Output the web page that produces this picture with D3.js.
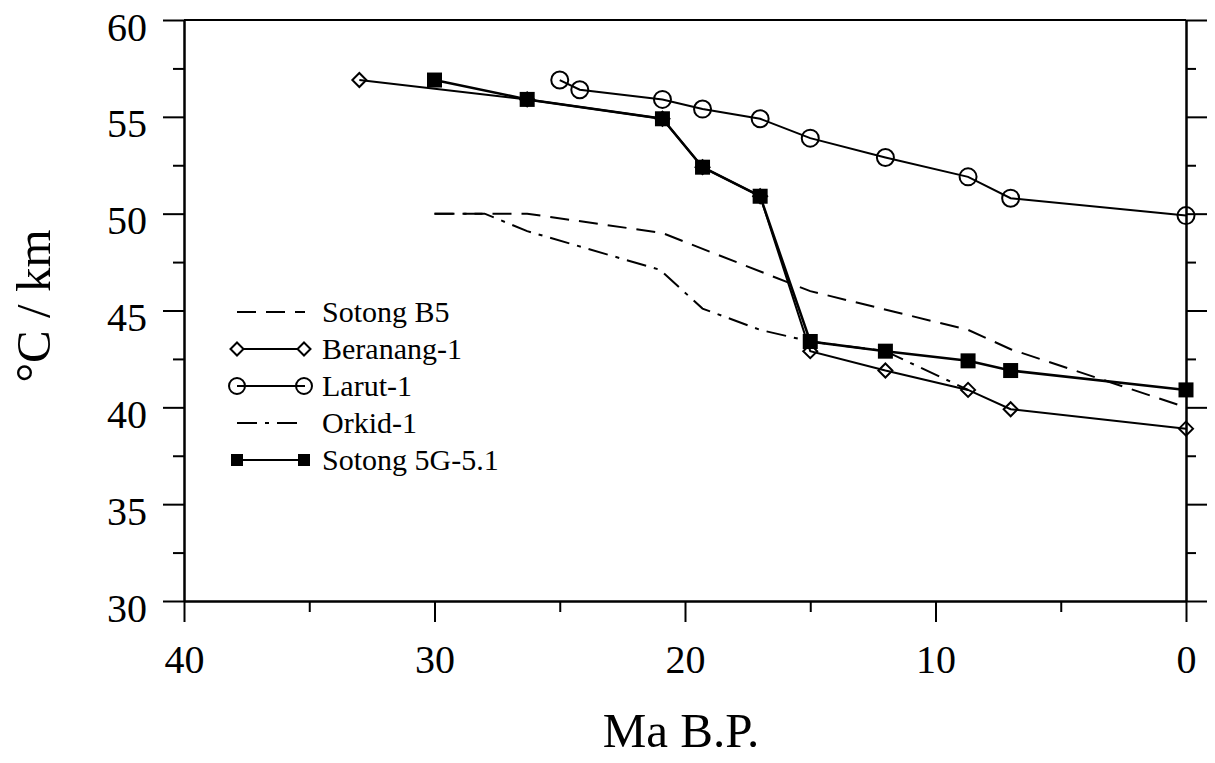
<!DOCTYPE html>
<html>
<head>
<meta charset="utf-8">
<script src="https://cdn.jsdelivr.net/npm/d3@7"></script>
<style>
  html, body { margin: 0; padding: 0; background: #fff; }
  svg { display: block; }
  text { font-family: "Liberation Serif", "DejaVu Serif", serif; fill: #000; }
</style>
</head>
<body>
<div id="chart"></div>
<script>
// x axis (Ma B.P.) and y axis (°C / km) ticks
const ageTicks = [40, 30, 20, 10, 0];
const ageMinor = [35, 25, 15, 5];
const gradTicks = [30, 35, 40, 45, 50, 55, 60];
const gradMinor = [32.5, 37.5, 42.5, 47.5, 52.5, 57.5];

// series
const sotongB5Age = [30, 26.3, 20.9, 15, 8.7, 7, 0];
const sotongB5Grad = [50, 50, 49, 46, 44, 43, 40];

const beranangAge = [33, 26.3, 20.9, 19.3, 17, 15, 12, 8.7, 7, 0];
const beranangGrad = [56.9, 55.9, 54.9, 52.4, 50.9, 42.9, 41.9, 40.9, 39.9, 38.9];

const larutAge = [25, 24.2, 20.9, 19.3, 17, 15, 12, 8.7, 7, 0];
const larutGrad = [56.9, 56.4, 55.9, 55.4, 54.9, 53.9, 52.9, 51.9, 50.8, 49.9];

const orkidAge = [30, 28, 26.3, 21, 19.3, 17, 15, 12, 8.7];
const orkidGrad = [50, 50, 49.1, 47.1, 45.1, 44, 43.4, 42.9, 40.9];

const sotong5GAge = [30, 26.3, 20.9, 19.3, 17, 15, 12, 8.7, 7, 0];
const sotong5GGrad = [56.9, 55.9, 54.9, 52.4, 50.9, 43.4, 42.9, 42.4, 41.9, 40.9];

const legendNames = ["Sotong B5", "Beranang-1", "Larut-1", "Orkid-1", "Sotong 5G-5.1"];

const width = 1215, height = 763;
const svg = d3.select("#chart").append("svg")
  .attr("width", width)
  .attr("height", height);

const x = d3.scaleLinear().domain([40, 0]).range([184, 1186]);
const y = d3.scaleLinear().domain([30, 60]).range([601, 20]);

const zip = (a, b) => a.map((v, i) => ({ age: v, grad: b[i] }));
const line = d3.line().x(d => x(d.age)).y(d => y(d.grad));

// frame: top line
svg.append("line")
  .attr("x1", x(40)).attr("x2", x(0))
  .attr("y1", y(60)).attr("y2", y(60))
  .attr("stroke", "#000").attr("stroke-width", 2);

function styleAxis(g) {
  g.selectAll("path, line").attr("stroke", "#000").attr("stroke-width", 2);
  g.selectAll("text").style("font-family", "Liberation Serif").attr("fill", "#000");
}

// left axis
const left = svg.append("g").attr("transform", `translate(${x(40)},0)`)
  .call(d3.axisLeft(y).tickValues(gradTicks).tickSize(21).tickSizeOuter(0).tickPadding(16).tickFormat(d3.format("d")));
left.selectAll("text").attr("dy", "0.5em").style("font-size", "40px");
styleAxis(left);
const leftMinor = svg.append("g").attr("transform", `translate(${x(40)},0)`)
  .call(d3.axisLeft(y).tickValues(gradMinor).tickSize(11).tickSizeOuter(0).tickFormat(""));
styleAxis(leftMinor);

// right axis
const right = svg.append("g").attr("transform", `translate(${x(0)},0)`)
  .call(d3.axisRight(y).tickValues(gradTicks).tickSize(21).tickSizeOuter(0).tickFormat(""));
styleAxis(right);
const rightMinor = svg.append("g").attr("transform", `translate(${x(0)},0)`)
  .call(d3.axisRight(y).tickValues(gradMinor).tickSize(10).tickSizeOuter(0).tickFormat(""));
styleAxis(rightMinor);

// bottom axis
const bottom = svg.append("g").attr("transform", `translate(0,${y(30)})`)
  .call(d3.axisBottom(x).tickValues(ageTicks).tickSize(21).tickSizeOuter(0).tickFormat(d3.format("d")));
bottom.selectAll("text").attr("y", 72).attr("dy", 0).style("font-size", "40px");
styleAxis(bottom);
const bottomMinor = svg.append("g").attr("transform", `translate(0,${y(30)})`)
  .call(d3.axisBottom(x).tickValues(ageMinor).tickSize(11).tickSizeOuter(0).tickFormat(""));
styleAxis(bottomMinor);

// axis titles
svg.append("text")
  .attr("x", 681).attr("y", 747)
  .attr("text-anchor", "middle")
  .style("font-size", "49px")
  .text("Ma B.P.");

svg.append("text")
  .attr("transform", "translate(50,306) rotate(-90)")
  .attr("text-anchor", "middle")
  .style("font-size", "49px")
  .text("°C / km");

// line styles
const dashB5 = "19,10";
const dashOrkid = "20,8,4,8";

function diamond(cx, cy, r) {
  return `M${cx},${cy - r}L${cx + r},${cy}L${cx},${cy + r}L${cx - r},${cy}Z`;
}

const plot = svg.append("g");

plot.append("path").datum(zip(sotongB5Age, sotongB5Grad))
  .attr("d", line).attr("fill", "none").attr("stroke", "#000")
  .attr("stroke-width", 2).attr("stroke-dasharray", dashB5);

plot.append("path").datum(zip(orkidAge, orkidGrad))
  .attr("d", line).attr("fill", "none").attr("stroke", "#000")
  .attr("stroke-width", 2).attr("stroke-dasharray", dashOrkid);

plot.append("path").datum(zip(beranangAge, beranangGrad))
  .attr("d", line).attr("fill", "none").attr("stroke", "#000").attr("stroke-width", 2);

plot.append("path").datum(zip(larutAge, larutGrad))
  .attr("d", line).attr("fill", "none").attr("stroke", "#000").attr("stroke-width", 2);

plot.append("path").datum(zip(sotong5GAge, sotong5GGrad))
  .attr("d", line).attr("fill", "none").attr("stroke", "#000").attr("stroke-width", 2.5);

// markers
plot.selectAll(".ber").data(zip(beranangAge, beranangGrad)).join("path")
  .attr("class", "ber")
  .attr("d", d => diamond(x(d.age), y(d.grad), 7))
  .attr("fill", "none").attr("stroke", "#000").attr("stroke-width", 2);

plot.selectAll(".lar").data(zip(larutAge, larutGrad)).join("circle")
  .attr("class", "lar")
  .attr("cx", d => x(d.age)).attr("cy", d => y(d.grad)).attr("r", 8.5)
  .attr("fill", "none").attr("stroke", "#000").attr("stroke-width", 2);

plot.selectAll(".sq").data(zip(sotong5GAge, sotong5GGrad)).join("rect")
  .attr("class", "sq")
  .attr("x", d => x(d.age) - 7.5).attr("y", d => y(d.grad) - 7.5)
  .attr("width", 15).attr("height", 15)
  .attr("fill", "#000");

// legend
const legend = svg.append("g");
const lx0 = 237, lx1 = 305, ltext = 322, lbase = 322, lstep = 37;

legendNames.forEach((name, i) => {
  const base = lbase + i * lstep;
  const cy = base - 10;
  const row = legend.append("g");
  const seg = row.append("line")
    .attr("x1", lx0).attr("x2", lx1).attr("y1", cy).attr("y2", cy)
    .attr("stroke", "#000").attr("stroke-width", 2);
  if (i === 0) seg.attr("stroke-dasharray", dashB5);
  if (i === 3) seg.attr("stroke-dasharray", dashOrkid);
  [lx0, lx1 - 1].forEach(mx => {
    if (i === 1) {
      row.append("path").attr("d", diamond(mx, cy, 6.5))
        .attr("fill", "#fff").attr("stroke", "#000").attr("stroke-width", 2);
    } else if (i === 2) {
      row.append("circle").attr("cx", mx).attr("cy", cy).attr("r", 8)
        .attr("fill", "none").attr("stroke", "#000").attr("stroke-width", 2);
    } else if (i === 4) {
      row.append("rect").attr("x", mx - 6).attr("y", cy - 6)
        .attr("width", 12).attr("height", 12).attr("fill", "#000");
    }
  });
  row.append("text")
    .attr("x", ltext).attr("y", base)
    .style("font-size", "30px")
    .text(name);
});
</script>
</body>
</html>
